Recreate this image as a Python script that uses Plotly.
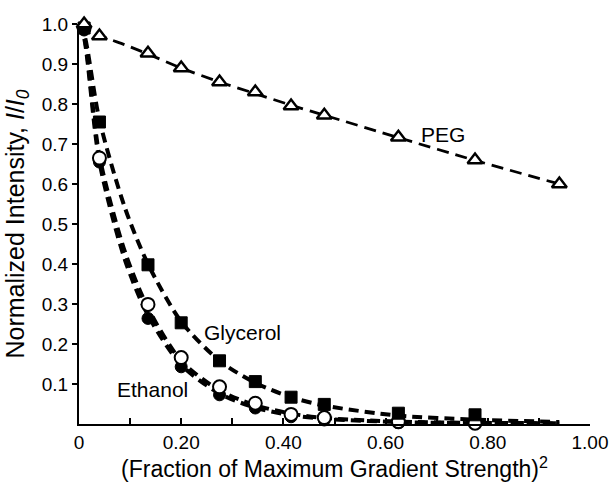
import plotly.graph_objects as go

# Squared gradient fraction at which each spectrum was recorded
gradient_sq = [0.01, 0.04, 0.135, 0.20, 0.275, 0.345, 0.415, 0.48, 0.625, 0.775, 0.94]

# Normalized signal intensity I/I0 for each solvent
peg = [1.0, 0.97, 0.927, 0.89, 0.855, 0.83, 0.795, 0.772, 0.717, 0.66, 0.60]
glycerol = [0.99, 0.755, 0.398, 0.253, 0.158, 0.106, 0.067, 0.049, 0.027, 0.023]
ethanol_filled = [0.985, 0.655, 0.264, 0.143, 0.073, 0.040, 0.018, 0.010, 0.003, 0.001]
ethanol_open = [0.99, 0.665, 0.299, 0.166, 0.093, 0.052, 0.024, 0.016, 0.006, 0.002]

# Fitted decay curves (dashed)
fit_x = [0.0, 0.01, 0.04, 0.09, 0.135, 0.20, 0.275, 0.345, 0.415, 0.48, 0.625, 0.775, 0.94]
peg_fit = [1.0, 0.995, 0.972, 0.948, 0.925, 0.89, 0.855, 0.826, 0.797, 0.772, 0.716, 0.659, 0.600]
glycerol_fit = [1.0, 0.975, 0.76, 0.54, 0.40, 0.256, 0.158, 0.103, 0.067, 0.046, 0.021, 0.011, 0.005]
ethanol_fit_a = [1.0, 0.97, 0.67, 0.43, 0.29, 0.158, 0.084, 0.047, 0.026, 0.015, 0.006, 0.003, 0.002]
ethanol_fit_b = [1.0, 0.965, 0.655, 0.41, 0.272, 0.148, 0.076, 0.041, 0.022, 0.013, 0.005, 0.002, 0.001]

x_tick_vals = [0, 0.2, 0.4, 0.6, 0.8, 1.0]
x_tick_text = ["0", "0.20", "0.40", "0.60", "0.80", "1.00"]
y_tick_vals = [0.1, 0.2, 0.3, 0.4, 0.5, 0.6, 0.7, 0.8, 0.9, 1.0]
y_tick_text = ["0.1", "0.2", "0.3", "0.4", "0.5", "0.6", "0.7", "0.8", "0.9", "1.0"]

FONT = "Liberation Sans, Arial, sans-serif"

fig = go.Figure()

# dashed fit curves
for ys, w, dash in [
    (peg_fit, 2.8, "12px,7px"),
    (glycerol_fit, 4, "10px,6px"),
    (ethanol_fit_a, 4, "10px,6px"),
    (ethanol_fit_b, 4, "10px,6px"),
]:
    fig.add_trace(go.Scatter(
        x=fit_x, y=ys, mode="lines",
        line=dict(color="black", width=w, dash=dash, shape="spline", smoothing=0.8),
        hoverinfo="skip", showlegend=False,
    ))

n = len(glycerol)
# measured points
fig.add_trace(go.Scatter(
    x=gradient_sq[:n], y=ethanol_filled, mode="markers", name="Ethanol",
    marker=dict(symbol="circle", size=12, color="black", line=dict(color="black", width=1)),
    cliponaxis=False, showlegend=False,
))
fig.add_trace(go.Scatter(
    x=gradient_sq[:n], y=ethanol_open, mode="markers", name="Ethanol (open)",
    marker=dict(symbol="circle", size=13, color="white", line=dict(color="black", width=2)),
    cliponaxis=False, showlegend=False,
))
fig.add_trace(go.Scatter(
    x=gradient_sq[:n], y=glycerol, mode="markers", name="Glycerol",
    marker=dict(symbol="square", size=12, color="black", line=dict(color="black", width=1)),
    cliponaxis=False, showlegend=False,
))
fig.add_trace(go.Scatter(
    x=gradient_sq, y=peg, mode="markers", name="PEG",
    marker=dict(symbol="triangle-up", size=13, color="white", line=dict(color="black", width=2.4)),
    cliponaxis=False, showlegend=False,
))

for text, x, y in [("PEG", 0.712, 0.725), ("Glycerol", 0.32, 0.228), ("Ethanol", 0.143, 0.086)]:
    fig.add_annotation(x=x, y=y, text=text, showarrow=False,
                       font=dict(family=FONT, size=21, color="black"))

fig.update_layout(
    width=609, height=485,
    margin=dict(l=79, r=19, t=24, b=61),
    paper_bgcolor="white", plot_bgcolor="white",
    font=dict(family=FONT, color="black"),
    xaxis=dict(
        range=[0, 1.0], showgrid=False, zeroline=False,
        showline=True, linecolor="black", linewidth=2,
        tickmode="array", tickvals=x_tick_vals, ticktext=x_tick_text,
        ticks="inside", ticklen=6, tickwidth=2, tickcolor="black",
        minor=dict(dtick=0.1, tick0=0, ticks="inside", ticklen=6, tickwidth=2, tickcolor="black"),
        tickfont=dict(family=FONT, size=19),
        title=dict(text="(Fraction of Maximum Gradient Strength)<sup>2</sup>",
                   font=dict(family=FONT, size=23), standoff=4),
        automargin=False,
    ),
    yaxis=dict(
        range=[0, 1.0], showgrid=False, zeroline=False,
        showline=True, linecolor="black", linewidth=2,
        tickmode="array", tickvals=y_tick_vals, ticktext=y_tick_text,
        ticks="outside", ticklen=5, tickwidth=2, tickcolor="black",
        tickfont=dict(family=FONT, size=19),
        title=dict(text="Normalized Intensity, <i>I</i>/<i>I</i><sub><i>0</i></sub>",
                   font=dict(family=FONT, size=25), standoff=10),
        automargin=False,
    ),
)

fig.write_html("out.html")
